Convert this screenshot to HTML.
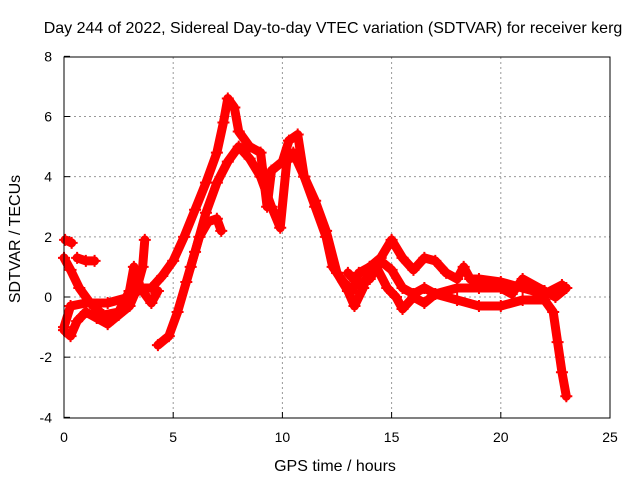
<!DOCTYPE html>
<html><head><meta charset="utf-8"><style>
body{margin:0;background:#fff}
svg text{font-family:"Liberation Sans",sans-serif;font-size:14px;fill:#000}
svg text.big{font-size:16px}
</style></head><body>
<svg id="c" width="640" height="480" xmlns="http://www.w3.org/2000/svg">
<text class="big" x="333" y="33" text-anchor="middle">Day 244 of 2022, Sidereal Day-to-day VTEC variation (SDTVAR) for receiver kerg</text>
<text class="big" x="335" y="471" text-anchor="middle">GPS time / hours</text>
<text class="big" transform="translate(20,239) rotate(-90)" text-anchor="middle">SDTVAR / TECUs</text>
<g id="grid"></g><g id="marks"></g>
<rect x="64" y="57" width="546" height="361" fill="none" stroke="#000"/>
</svg>
<script>
const xTicks=[0,5,10,15,20,25];
const yTicks=[-4,-2,0,2,4,6,8];
const trackA=[[0,-1.0],[0.3,-0.3],[1,-0.2],[2,-0.2],[3,0],[3.6,0.3],[4,0.3],[4.5,0.7],[5,1.2],[5.5,2.0],[6,2.9],[6.5,3.8],[7,4.8],[7.3,5.8],[7.5,6.6],[7.8,6.3],[8,5.5],[8.5,5.0],[9,4.8],[9.3,3.0],[9.5,4.2],[10,4.5],[10.3,5.2],[10.7,5.4],[11,4.0],[11.5,3.0],[12,2.0],[12.3,1.0],[12.8,0.5],[13.2,0.2],[13.5,0.8],[14,1.0],[14.5,1.3],[15,1.9],[15.5,1.3],[16,0.9],[16.5,1.3],[17,1.2],[17.5,0.8],[18,0.6],[18.3,1.0],[18.6,0.6],[19,0.6],[20,0.5],[21,0.3],[22,0.1],[22.8,0.4]];
const trackB=[[4.3,-1.6],[4.8,-1.3],[5.2,-0.5],[5.6,0.5],[6,1.5],[6.5,2.8],[7,3.8],[7.5,4.5],[8,5.0],[8.5,4.6],[9,4.0],[9.5,3.0],[9.9,2.3],[10.2,4.5],[10.5,4.8],[11,4.0],[11.5,3.2],[12,2.2],[12.5,0.8],[13,0.2],[13.3,-0.3],[13.7,0.3],[14,1.0],[14.3,1.0],[14.8,0.3],[15.2,0],[15.5,-0.4],[16,0.0],[16.5,-0.2],[17,0.1],[18,-0.1],[19,-0.3],[20,-0.3],[21,-0.1],[22,-0.1],[22.4,-0.5],[22.6,-1.5],[22.8,-2.5],[23,-3.3]];
const trackC=[[0,-1.1],[0.3,-1.3],[0.6,-0.8],[1,-0.5],[1.5,-0.7],[2,-0.9],[2.5,-0.6],[3,-0.3],[3.3,0.2],[3.6,1.0],[3.7,1.9]];
const trackD=[[13,0.8],[13.5,0.4],[14,0.6],[14.5,1.2],[15,0.9],[15.5,0.3],[16,0.1],[16.5,0.3],[17,0.1],[18,0.3],[19,0.3],[20,0.3],[20.5,0.1],[21,0.6],[22,0.2],[22.5,0],[23,0.3]];
const trackE=[[0,1.3],[0.3,0.9],[0.7,0.3],[1.2,-0.2],[1.8,-0.6],[2.5,-0.5],[3,0.2],[3.2,1.0],[3.5,0.3],[4,-0.2],[4.3,0.2]];
const trackF=[[0.6,1.3],[1.0,1.2],[1.4,1.2]];
const trackG=[[0.05,1.9],[0.35,1.8]];
const trackH=[[5.8,1.0],[6.2,2.0],[6.6,2.5],[7.0,2.6],[7.2,2.2]];
const tracks=[trackA,trackB,trackC,trackD,trackE,trackF,trackG,trackH];
const X=h=>64+h*(546/25), Y=v=>297-v*(361/12);
const NS="http://www.w3.org/2000/svg";
const grid=document.getElementById('grid'), marks=document.getElementById('marks');
function mk(t,a,p){const e=document.createElementNS(NS,t);for(const k in a)e.setAttribute(k,a[k]);p.appendChild(e);return e;}
xTicks.forEach(t=>{
 if(t>0&&t<25){const l=mk('line',{x1:X(t),x2:X(t),y1:57,y2:418,stroke:'#999','stroke-dasharray':'2,3'},grid);
 
 }
 const tk=mk('line',{x1:X(t),x2:X(t),y1:418,y2:412,stroke:'#000'},grid);
 
 
 const tx=mk('text',{x:X(t),y:442,'text-anchor':'middle'},grid);tx.textContent=t;
 
 
});
yTicks.forEach(t=>{
 if(t>-4&&t<8){const l=mk('line',{x1:64,x2:610,y1:Y(t),y2:Y(t),stroke:'#999','stroke-dasharray':'2,3'},grid);
 
 }
 const tk=mk('line',{x1:64,x2:70,y1:Y(t),y2:Y(t),stroke:'#000'},grid);
 
 
 const tx=mk('text',{x:52,y:Y(t)+5,'text-anchor':'end'},grid);tx.textContent=t;
 
 
});
tracks.forEach((tr,i)=>{
 const pl=mk('polyline',{points:tr.map(p=>X(p[0])+','+Y(p[1])).join(' '),fill:'none',stroke:'#f00','stroke-width':9,'stroke-linejoin':'round','stroke-linecap':'round'},marks);
 
 
 tr.forEach(p=>{
  const m=mk('path',{d:`M${X(p[0])-6},${Y(p[1])}h12M${X(p[0])},${Y(p[1])-6}v12`,stroke:'#f00','stroke-width':2},marks);
  
  
 });
});
</script>
</body></html>
